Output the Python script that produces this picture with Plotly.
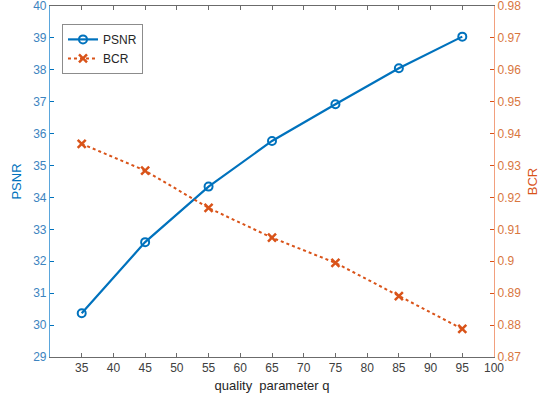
import plotly.graph_objects as go

q = [35, 45, 55, 65, 75, 85, 95]
psnr = [30.37, 32.60, 34.34, 35.77, 36.92, 38.05, 39.04]
bcr = [0.9368, 0.9284, 0.9167, 0.9074, 0.8995, 0.8891, 0.8788]

x_ticks = [35, 40, 45, 50, 55, 60, 65, 70, 75, 80, 85, 90, 95, 100]
y1_ticks = list(range(29, 41))
y2_ticks = [0.87, 0.88, 0.89, 0.90, 0.91, 0.92, 0.93, 0.94, 0.95, 0.96, 0.97, 0.98]
y2_labels = ["0.87", "0.88", "0.89", "0.9", "0.91", "0.92", "0.93", "0.94", "0.95", "0.96", "0.97", "0.98"]

BLUE = "#0072BD"
ORANGE = "#D95319"
FONT = "Liberation Sans, Arial, sans-serif"

fig = go.Figure()
fig.add_trace(go.Scatter(
    x=q, y=psnr, name="PSNR", mode="lines+markers",
    line=dict(color=BLUE, width=2.2),
    marker=dict(symbol="circle-open", size=8, color=BLUE, line=dict(width=2, color=BLUE)),
))
fig.add_trace(go.Scatter(
    x=q, y=bcr, name="BCR", mode="lines+markers", yaxis="y2",
    line=dict(color=ORANGE, width=2, dash="dot"),
    marker=dict(symbol="x-thin-open", size=8, color=ORANGE, line=dict(width=2.5, color=ORANGE)),
))

fig.update_layout(
    width=542, height=402,
    margin=dict(l=50, r=48, t=6, b=45, autoexpand=False),
    paper_bgcolor="white", plot_bgcolor="white",
    font=dict(family=FONT, size=12, color="#404040"),
    showlegend=True,
    legend=dict(
        x=0.027, y=0.949, xanchor="left", yanchor="top",
        bgcolor="white", bordercolor="#8c8c8c", borderwidth=1,
        font=dict(size=12, color="#262626"),
        tracegroupgap=0,
    ),
    xaxis=dict(
        range=[30, 100], tickvals=x_ticks, ticks="inside", ticklen=4,
        tickcolor="#6b6b6b", showline=True, linecolor="#6b6b6b", linewidth=1,
        mirror="ticks", showgrid=False, zeroline=False, automargin=False,
        ticklabeloverflow="allow",
        tickfont=dict(size=12, color="#404040"),
        title=dict(text="quality&nbsp; parameter q", font=dict(size=13, color="#262626"), standoff=6),
    ),
    yaxis=dict(
        range=[29, 40], tickvals=y1_ticks, ticks="inside", ticklen=4,
        tickcolor=BLUE, showline=True, linecolor="#5aa6dc", linewidth=1.2,
        showgrid=False, zeroline=False, automargin=False,
        ticklabeloverflow="allow",
        tickfont=dict(size=12, color="#3d84c0"),
        title=dict(text="PSNR", font=dict(size=13, color=BLUE), standoff=8),
    ),
    yaxis2=dict(
        range=[0.87, 0.98], tickvals=y2_ticks, ticktext=y2_labels, ticks="inside", ticklen=4,
        tickcolor=ORANGE, showline=True, linecolor="#f2a07e", linewidth=1.2,
        overlaying="y", side="right", showgrid=False, zeroline=False, automargin=False,
        ticklabeloverflow="allow",
        tickfont=dict(size=12, color="#d9773f"),
        title=dict(text="BCR", font=dict(size=13, color=ORANGE), standoff=7),
    ),
)

fig.write_html("out.html", config={"displayModeBar": False},
               post_script="document.body.style.margin='0';")
